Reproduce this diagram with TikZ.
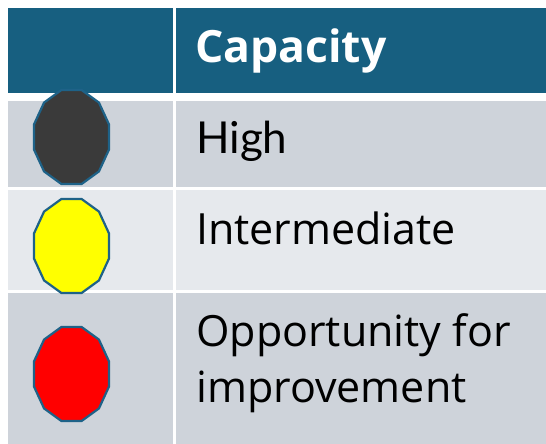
\documentclass[tikz,border=0pt]{standalone}
\usepackage{fontspec}
\setmainfont{Open Sans}
\newfontfamily\latofont{Lato}
\usepackage{tikz}
\usetikzlibrary{calc}

\definecolor{headblue}{HTML}{175F80}
\definecolor{rowdark}{HTML}{CED3DA}
\definecolor{rowlight}{HTML}{E6E9ED}
\definecolor{lampline}{HTML}{1E6288}
\definecolor{lampgrey}{HTML}{3A3A3A}
\definecolor{lampyellow}{HTML}{FFFF00}
\definecolor{lampred}{HTML}{FF0000}

\tikzset{
  celltext/.style={anchor=base west, inner sep=0pt, font=\fontsize{43}{56}\selectfont},
  headtext/.style={celltext, text=white, font=\fontsize{44.5}{56}\selectfont\bfseries},
  lamp/.style={draw=lampline, line width=2.2pt, line join=miter}
}

\begin{document}
\begin{tikzpicture}[x=1pt,y=-1pt]
				\useasboundingbox (0,0) rectangle (546,444);
				% header and rows
				\fill[headblue] (8,8) rectangle (173,93);
				\fill[headblue] (176,8) rectangle (546,93);
				\fill[rowdark] (8,101) rectangle (173,187);
				\fill[rowdark] (176,101) rectangle (546,187);
				\fill[rowlight] (8,190) rectangle (173,290);
				\fill[rowlight] (176,190) rectangle (546,290);
				\fill[rowdark] (8,293) rectangle (173,444);
				\fill[rowdark] (176,293) rectangle (546,444);
				% labels
				\node[headtext] (capacity) at (195,63) {Capacity};
				\node[celltext, font=\fontsize{44}{56}\selectfont\latofont] (high) at (196,153) {High};
				\node[celltext] (intermediate) at (196,244) {Intermediate};
				\node[celltext, align=left] (opportunity) at (196,402) {Opportunity for\\improvement};
				% lamps
				\coordinate (lampHigh) at (71.5,137);
				\coordinate (lampMid) at (71.5,246);
				\coordinate (lampLow) at (71.5,374);
				\foreach \c/\f in {lampHigh/lampgrey, lampMid/lampyellow, lampLow/lampred} {
					\draw[lamp, fill=\f] ($(\c)+(15:38.8 and 48.7)$)
						\foreach \a in {45,75,...,345} { -- ($(\c)+(\a:38.8 and 48.7)$) } -- cycle;
				}
			\end{tikzpicture}
\end{document}
